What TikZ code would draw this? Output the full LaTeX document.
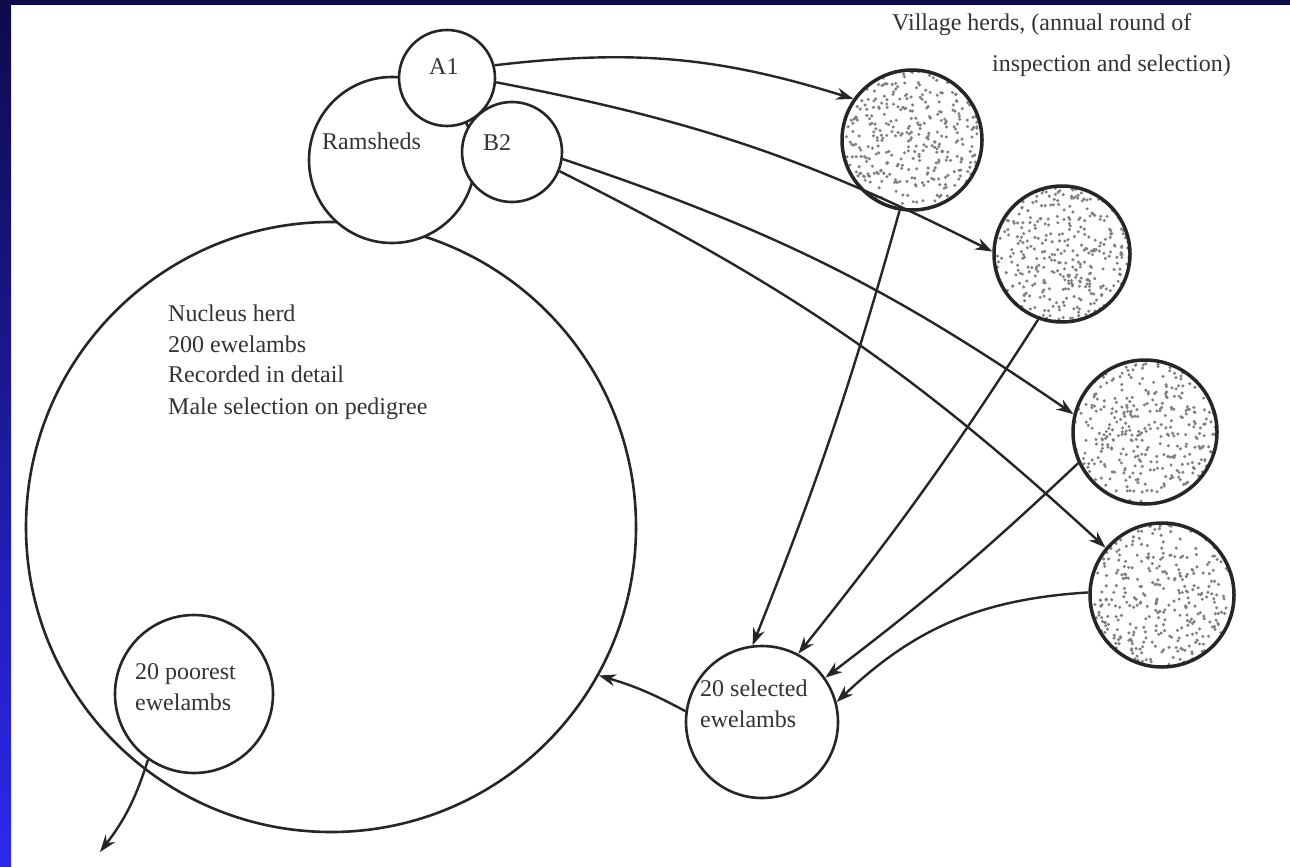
\documentclass[tikz,border=0pt]{standalone}
\usepackage{fontspec}
\setmainfont{Liberation Serif}
\usetikzlibrary{arrows.meta}
\definecolor{navyband}{RGB}{13,11,75}
\definecolor{blueband}{RGB}{45,40,240}
\newcommand\mystipple[3]{%
  \begin{scope}
    \clip (#1,#2) circle[radius=#3];
    \foreach \k in {1,...,420}{\fill[black!50] ({#1+#3*rand},{#2+#3*rand}) circle[radius=1.7];}
  \end{scope}}
\begin{document}
\begin{tikzpicture}[x=1pt,y=-1pt,
  ring/.style={circle,draw=black!85,line width=2.6pt,inner sep=0pt,minimum size=#1},
  herdring/.style={ring=#1,line width=3.5pt},
  lbl/.style={font=\fontsize{24}{30}\selectfont,text=black!80,inner sep=0pt,anchor=mid west},
  arr/.style={draw=black!85,line width=2.4pt,-{Stealth[length=17pt,width=12pt]}}]
\useasboundingbox (0,0) rectangle (1290,867);
\fill[white] (0,0) rectangle (1290,867);
\pgfmathsetseed{7}
% frame
\shade[top color=navyband,bottom color=blueband] (0,0) rectangle (11,867);
\fill[navyband] (0,0) rectangle (1290,5);
% circles
\node[ring=610] (nucleus) at (331,527) {};
\node[ring=166,fill=white] (ramsheds) at (392,160) {};
\node[ring=96,fill=white] (a1) at (447,78) {};
\node[ring=100,fill=white] (b2) at (512,152) {};
\mystipple{912}{140}{70}
\node[herdring=140] (c1) at (912,140) {};
\mystipple{1062}{254}{68}
\node[herdring=136] (c2) at (1062,254) {};
\mystipple{1145}{432}{72}
\node[herdring=144] (c3) at (1145,432) {};
\mystipple{1162}{595}{72}
\node[herdring=144] (c4) at (1162,595) {};
\node[ring=152] (selected) at (762,722) {};
\node[ring=158] (poorest) at (194,694) {};
% labels
\node[lbl] (ta1) at (429,72) {A1};
\node[lbl] (tb2) at (483,148) {B2};
\node[lbl] (tram) at (322,147) {Ramsheds};
\node[lbl] (tn1) at (168,319) {Nucleus herd};
\node[lbl] (tn2) at (168,350) {200 ewelambs};
\node[lbl] (tn3) at (168,380) {Recorded in detail};
\node[lbl] (tn4) at (168,412) {Male selection on pedigree};
\node[lbl] (tp1) at (135,677) {20 poorest};
\node[lbl] (tp2) at (135,708) {ewelambs};
\node[lbl] (ts1) at (700,694) {20 selected};
\node[lbl] (ts2) at (700,725) {ewelambs};
\node[lbl] (tv1) at (892,28) {Village herds, (annual round of};
\node[lbl] (tv2) at (992,69) {inspection and selection)};
% connectors
\draw[arr] (a1.15) to[bend left=12] (c1.145);
\draw[arr] (a1.-5) to[bend left=8] (c2.178);
\draw[arr] (b2.-8) to[bend left=8] (c3.166);
\draw[arr] (b2.-22) to[bend left=8] (c4.140);
\draw[arr] (c1.-100) to[bend left=3] (selected.97);
\draw[arr] (c2.-110) to[bend left=3] (selected.62);
\draw[arr] (c3.205) to[bend left=3] (selected.35);
\draw[arr] (c4.178) to[bend right=20] (selected.15);
\draw[arr] (selected.172) to[bend right=6] (nucleus.-29);
\coordinate (out) at (100,852);
\draw[arr] (poorest.235) to[bend left=10] (out);
\end{tikzpicture}
\end{document}
